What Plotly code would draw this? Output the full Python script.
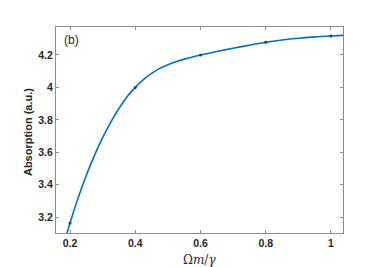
import plotly.graph_objects as go

# curve
omega = [0.19, 0.20, 0.225, 0.25, 0.275, 0.30, 0.325, 0.35, 0.375, 0.40,
         0.425, 0.45, 0.475, 0.50, 0.525, 0.55, 0.575, 0.60, 0.65, 0.70,
         0.75, 0.80, 0.85, 0.90, 0.95, 1.00, 1.04]
absorption = [3.097, 3.165, 3.320, 3.459, 3.581, 3.690, 3.786, 3.870, 3.942, 4.000,
              4.048, 4.086, 4.117, 4.140, 4.158, 4.174, 4.187, 4.199, 4.221, 4.241,
              4.260, 4.278, 4.292, 4.303, 4.311, 4.317, 4.321]

# marked sample points
mark_x = [0.2, 0.4, 0.6, 0.8, 1.0]
mark_y = [3.165, 4.000, 4.199, 4.278, 4.317]

x_ticks = [0.2, 0.4, 0.6, 0.8, 1.0]
x_labels = ["0.2", "0.4", "0.6", "0.8", "1"]
y_ticks = [3.2, 3.4, 3.6, 3.8, 4.0, 4.2]
y_labels = ["3.2", "3.4", "3.6", "3.8", "4", "4.2"]

fig = go.Figure()
fig.add_trace(go.Scatter(x=omega, y=absorption, mode="lines",
                         line=dict(color="#0072BD", width=1.6, shape="spline", smoothing=1.0),
                         showlegend=False, hoverinfo="skip"))
fig.add_trace(go.Scatter(x=mark_x, y=mark_y, mode="markers",
                         marker=dict(color="#1f3f70", size=3, symbol="circle"),
                         showlegend=False))

axis_common = dict(showline=True, linecolor="#8c8c8c", linewidth=1, mirror="ticks",
                   ticks="inside", ticklen=3, tickcolor="#8c8c8c", showgrid=False,
                   zeroline=False, automargin=False,
                   tickfont=dict(family="Liberation Sans", size=10.5, color="#262626"))

fig.update_layout(
    width=371, height=267,
    margin=dict(l=48, r=36, t=19, b=42),
    paper_bgcolor="white", plot_bgcolor="white",
    xaxis=dict(range=[0.157, 1.037], tickvals=x_ticks, ticktext=["<b>%s</b>" % t for t in x_labels],
               **axis_common),
    yaxis=dict(range=[3.103, 4.372], tickvals=y_ticks, ticktext=["<b>%s</b>" % t for t in y_labels],
               **axis_common),
    annotations=[
        dict(text="(b)", x=0.02, y=0.937, xref="paper", yref="paper",
             xanchor="left", yanchor="middle", showarrow=False,
             font=dict(family="Liberation Sans", size=12, color="#262626")),
        dict(text="Ω<i>m</i>/<i>γ</i>", x=0.5, y=-0.131, xref="paper", yref="paper",
             xanchor="center", yanchor="middle", showarrow=False,
             font=dict(family="DejaVu Serif", size=12, color="#262626")),
        dict(text="<b>Absorption (a.u.)</b>", x=-0.0976, y=0.49, xref="paper", yref="paper",
             xanchor="center", yanchor="middle", textangle=-90, showarrow=False,
             font=dict(family="Liberation Sans", size=11, color="#262626")),
    ],
)

fig.write_html("out.html")
